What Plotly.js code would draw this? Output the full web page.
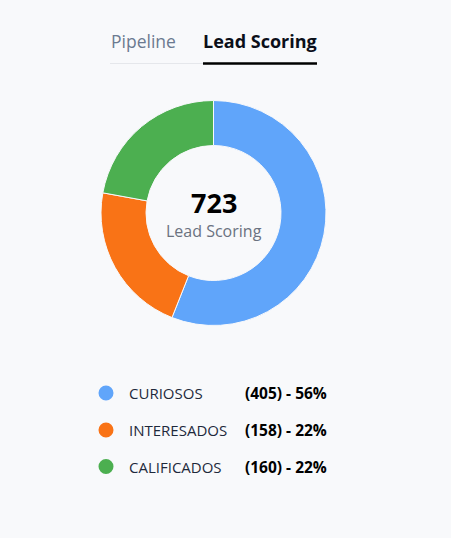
<!DOCTYPE html>
<html>
<head>
<meta charset="utf-8">
<script src="https://cdn.plot.ly/plotly-3.0.1.min.js"></script>
<style>
html,body{margin:0;padding:0;background:#f8f9fb;}
#chart{width:451px;height:538px;}
</style>
</head>
<body>
<div id="chart"></div>
<script>
const categories = ["CURIOSOS", "INTERESADOS", "CALIFICADOS"];
const values = [405, 158, 160];
const colors = ["#60a5fa", "#f97316", "#4caf50"];
const tabs = ["Pipeline", "Lead Scoring"];
const centerLabel = "Lead Scoring";

const W = 451, H = 538;
const px = x => x / W;
const py = y => 1 - y / H;
const total = values.reduce((a, b) => a + b, 0);
const font = "Open Sans, sans-serif";

const trace = {
  type: "pie",
  labels: categories,
  values: values,
  hole: 0.6,
  sort: false,
  direction: "clockwise",
  rotation: 0,
  textinfo: "none",
  hoverinfo: "label+value+percent",
  marker: {colors: colors, line: {color: "#f8f9fb", width: 1}},
  domain: {x: [px(101), px(326)], y: [py(325.5), py(100.5)]},
  showlegend: false
};

const annotations = [];
const shapes = [];

// tabs
annotations.push({x: px(108.5), y: py(41), xref: "paper", yref: "paper", xanchor: "left", yanchor: "middle",
  text: tabs[0], showarrow: false, font: {family: font, size: 17.5, color: "#6b7a90"}});
annotations.push({x: px(201), y: py(41), xref: "paper", yref: "paper", xanchor: "left", yanchor: "middle",
  text: "<b>" + tabs[1] + "</b>", showarrow: false, font: {family: font, size: 18, color: "#0b0f19"}});
shapes.push({type: "line", xref: "paper", yref: "paper", x0: px(110), x1: px(203), y0: py(63.5), y1: py(63.5),
  line: {color: "#e5e7eb", width: 1}});
shapes.push({type: "line", xref: "paper", yref: "paper", x0: px(203), x1: px(317), y0: py(63.5), y1: py(63.5),
  line: {color: "#000000", width: 2.5}});

// center
annotations.push({x: px(213.5), y: py(203), xref: "paper", yref: "paper", xanchor: "center", yanchor: "middle",
  text: "<b>" + total + "</b>", showarrow: false, font: {family: font, size: 27, color: "#000000"}});
annotations.push({x: px(213.5), y: py(231), xref: "paper", yref: "paper", xanchor: "center", yanchor: "middle",
  text: centerLabel, showarrow: false, font: {family: font, size: 16, color: "#6b7280"}});

// legend
const rowY = [393, 430, 466.5];
categories.forEach((c, i) => {
  const y = rowY[i];
  shapes.push({type: "circle", xref: "paper", yref: "paper",
    x0: px(98.5), x1: px(113.5), y0: py(y + 7.5), y1: py(y - 7.5),
    fillcolor: colors[i], line: {width: 0}});
  annotations.push({x: px(127), y: py(y), xref: "paper", yref: "paper", xanchor: "left", yanchor: "middle",
    text: c, showarrow: false, font: {family: font, size: 15, color: "#1e293b"}});
  const pct = Math.round(values[i] / total * 100);
  annotations.push({x: px(243), y: py(y), xref: "paper", yref: "paper", xanchor: "left", yanchor: "middle",
    text: "<b>(" + values[i] + ") - " + pct + "%</b>", showarrow: false, font: {family: font, size: 15.5, color: "#000000"}});
});

Plotly.newPlot("chart", [trace], {
  width: W, height: H,
  margin: {l: 0, r: 0, t: 0, b: 0},
  paper_bgcolor: "#f8f9fb",
  plot_bgcolor: "#f8f9fb",
  annotations: annotations,
  shapes: shapes
}, {displayModeBar: false, staticPlot: false});
</script>
</body>
</html>
